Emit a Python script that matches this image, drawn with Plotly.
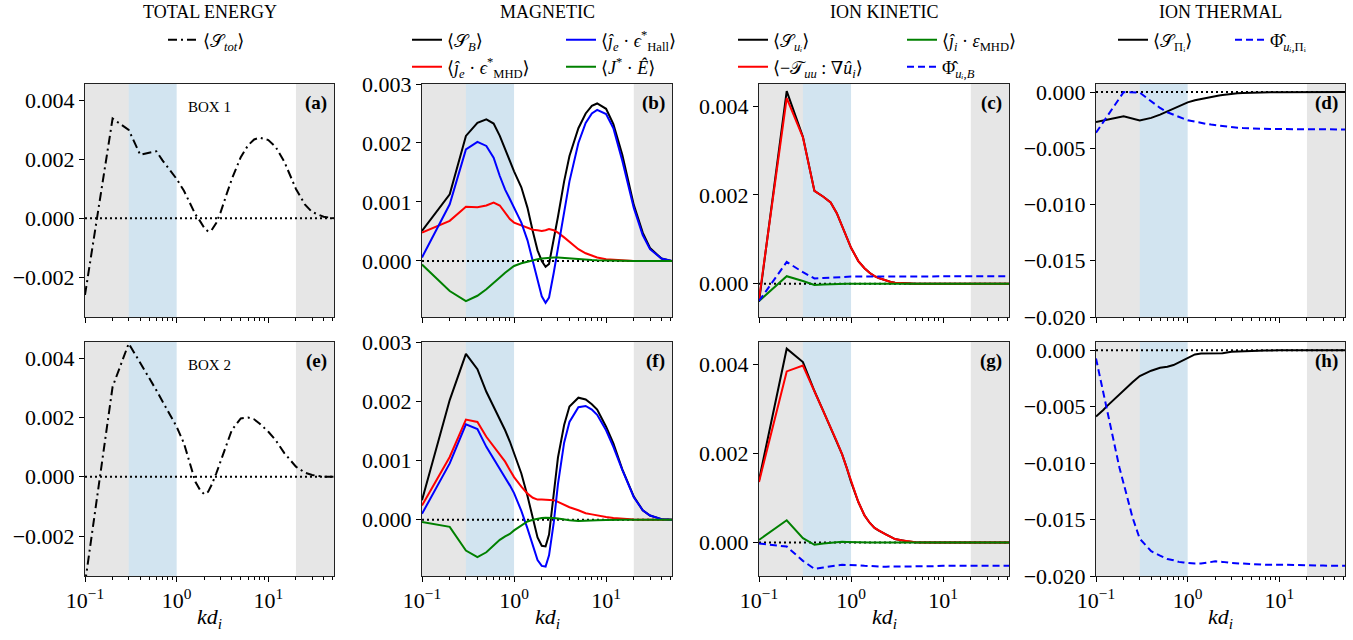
import math
import plotly.graph_objects as go

# ---------------- data (values in units of 1e-3) ----------------
SCALE = 1e-3
K = [0.1, 0.2, 0.3, 0.4, 0.5, 0.6, 0.7, 0.8, 0.9, 1.0, 1.2, 1.4, 1.6, 1.8, 2.0,
     2.2, 2.4, 2.7, 3.0, 3.5, 4, 5, 6, 7, 8, 10, 12, 15, 20, 25, 30, 40, 52]
K_H = [0.1, 0.11, 0.12, 0.13, 0.14, 0.16, 0.18, 0.2, 0.22, 0.25, 0.3, 0.4, 0.5, 0.6,
       0.7, 0.8, 0.9, 1.0, 1.2, 1.4, 1.6, 1.8, 2.0, 2.4, 3, 4, 5, 7, 10, 15, 20, 30, 52]

# BOX 1
TOT_1 = [-2.6, 3.38, 2.99, 2.15, 2.22, 2.27, 1.96, 1.73, 1.52, 1.33, 0.93, 0.47, 0.13, -0.10, -0.33,
         -0.45, -0.41, -0.16, 0.18, 0.81, 1.33, 2.07, 2.47, 2.67, 2.73, 2.65, 2.42, 1.90, 0.99, 0.47, 0.21, 0.05, 0.0]
SB_1 = [0.51, 1.13, 2.12, 2.34, 2.40, 2.33, 2.12, 1.89, 1.69, 1.52, 1.25, 0.90, 0.50, 0.18, 0.0,
        -0.10, -0.05, 0.35, 0.75, 1.35, 1.78, 2.25, 2.50, 2.63, 2.67, 2.58, 2.32, 1.80, 0.95, 0.48, 0.22, 0.04, 0.0]
HALL_1 = [0.06, 0.96, 1.89, 2.02, 1.95, 1.75, 1.44, 1.21, 1.05, 0.90, 0.65, 0.35, 0.0, -0.35, -0.60,
          -0.71, -0.62, -0.20, 0.20, 0.85, 1.35, 2.0, 2.34, 2.50, 2.56, 2.49, 2.25, 1.70, 0.90, 0.44, 0.20, 0.04, 0.0]
MHD_1 = [0.48, 0.68, 0.92, 0.91, 0.94, 0.99, 0.94, 0.82, 0.71, 0.65, 0.60, 0.56, 0.53, 0.52, 0.51,
         0.52, 0.54, 0.52, 0.48, 0.40, 0.32, 0.20, 0.13, 0.09, 0.06, 0.03, 0.02, 0.01, 0.0, 0.0, 0.0, 0.0, 0.0]
JE_1 = [-0.06, -0.51, -0.68, -0.59, -0.48, -0.38, -0.28, -0.20, -0.14, -0.085, -0.04, -0.01, 0.01, 0.03, 0.04,
        0.05, 0.06, 0.06, 0.06, 0.05, 0.04, 0.03, 0.02, 0.015, 0.01, 0.005, 0.0, 0.0, 0.0, 0.0, 0.0, 0.0, 0.0]
SUI_1 = [-0.41, 4.34, 3.31, 2.09, 1.96, 1.83, 1.59, 1.29, 1.03, 0.81, 0.51, 0.35, 0.24, 0.17, 0.13,
         0.10, 0.07, 0.04, 0.02, 0.01, 0.005, 0.0, 0.0, 0.0, 0.0, 0.0, 0.0, 0.0, 0.0, 0.0, 0.0, 0.0, 0.0]
TUU_1 = [-0.35, 4.18, 3.30, 2.09, 1.96, 1.83, 1.59, 1.29, 1.03, 0.81, 0.51, 0.35, 0.24, 0.17, 0.13,
         0.10, 0.07, 0.04, 0.02, 0.01, 0.005, 0.0, 0.0, 0.0, 0.0, 0.0, 0.0, 0.0, 0.0, 0.0, 0.0, 0.0, 0.0]
JI_1 = [-0.39, 0.17, 0.06, -0.03, -0.02, -0.01, -0.005, 0.0, 0.0, 0.0, 0.0, 0.0, 0.0, 0.0, 0.0,
        0.0, 0.0, 0.0, 0.0, 0.0, 0.0, 0.0, 0.0, 0.0, 0.0, 0.0, 0.0, 0.0, 0.0, 0.0, 0.0, 0.0, 0.0]
PHIB_1 = [-0.39, 0.49, 0.26, 0.12, 0.13, 0.14, 0.15, 0.155, 0.16, 0.16, 0.16, 0.16, 0.16, 0.16, 0.16,
          0.16, 0.16, 0.16, 0.165, 0.165, 0.165, 0.165, 0.17, 0.17, 0.17, 0.17, 0.17, 0.17, 0.17, 0.17, 0.17, 0.17, 0.17]
SPI_1 = [-2.65, -2.15, -2.53, -2.29, -2.0, -1.71, -1.41, -1.2, -1.05, -0.91, -0.72, -0.6, -0.5, -0.42, -0.35,
         -0.3, -0.26, -0.2, -0.16, -0.11, -0.08, -0.04, -0.02, -0.015, -0.01, -0.005, 0.0, 0.0, 0.0, 0.0, 0.0, 0.0, 0.0]
PHIP_1 = [-3.62, 0.0, -0.05, -0.82, -1.41, -1.79, -2.03, -2.2, -2.36, -2.5, -2.65, -2.75, -2.83, -2.89, -2.94,
          -2.98, -3.02, -3.07, -3.12, -3.17, -3.2, -3.24, -3.26, -3.27, -3.28, -3.29, -3.3, -3.3, -3.31, -3.31, -3.32, -3.32, -3.32]

# BOX 2
TOT_2 = [-3.6, 3.04, 4.5, 3.87, 3.34, 2.92, 2.56, 2.25, 1.97, 1.69, 1.13, 0.39, -0.17, -0.45, -0.59,
         -0.51, -0.28, 0.11, 0.51, 1.13, 1.58, 1.97, 2.0, 1.94, 1.80, 1.52, 1.24, 0.79, 0.34, 0.14, 0.06, 0.0, 0.0]
SB_2 = [0.33, 2.02, 2.80, 2.54, 2.16, 1.91, 1.71, 1.51, 1.32, 1.12, 0.78, 0.40, 0.05, -0.30, -0.44,
        -0.45, -0.25, 0.45, 1.05, 1.60, 1.91, 2.06, 2.03, 1.95, 1.86, 1.57, 1.29, 0.85, 0.39, 0.16, 0.07, 0.01, 0.0]
HALL_2 = [0.10, 0.95, 1.61, 1.53, 1.23, 1.03, 0.86, 0.72, 0.58, 0.45, 0.15, -0.15, -0.45, -0.68, -0.78,
          -0.79, -0.60, -0.05, 0.60, 1.30, 1.65, 1.90, 1.92, 1.86, 1.77, 1.51, 1.23, 0.84, 0.38, 0.16, 0.07, 0.01, 0.0]
MHD_2 = [0.24, 1.06, 1.69, 1.65, 1.40, 1.23, 1.09, 0.98, 0.84, 0.72, 0.56, 0.44, 0.37, 0.34, 0.34,
         0.34, 0.34, 0.33, 0.30, 0.25, 0.21, 0.16, 0.11, 0.09, 0.07, 0.045, 0.03, 0.015, 0.005, 0.0, 0.0, 0.0, 0.0]
JE_2 = [-0.04, -0.12, -0.52, -0.63, -0.55, -0.43, -0.34, -0.28, -0.24, -0.18, -0.10, -0.03, 0.0, 0.02, 0.03,
        0.035, 0.035, 0.03, 0.02, 0.0, -0.01, -0.02, -0.02, -0.015, -0.01, -0.005, 0.0, 0.0, 0.0, 0.0, 0.0, 0.0, 0.0]
SUI_2 = [1.40, 4.35, 4.05, 3.40, 2.95, 2.58, 2.27, 1.98, 1.67, 1.36, 0.91, 0.61, 0.44, 0.33, 0.27,
         0.22, 0.18, 0.13, 0.08, 0.05, 0.03, 0.01, 0.0, 0.0, 0.0, 0.0, 0.0, 0.0, 0.0, 0.0, 0.0, 0.0, 0.0]
TUU_2 = [1.36, 3.84, 3.97, 3.40, 2.95, 2.58, 2.27, 1.98, 1.67, 1.36, 0.91, 0.61, 0.44, 0.33, 0.27,
         0.22, 0.18, 0.13, 0.08, 0.05, 0.03, 0.01, 0.0, 0.0, 0.0, 0.0, 0.0, 0.0, 0.0, 0.0, 0.0, 0.0, 0.0]
JI_2 = [0.06, 0.50, 0.10, -0.05, -0.02, 0.0, 0.01, 0.02, 0.015, 0.01, 0.005, 0.0, 0.0, 0.0, 0.0,
        0.0, 0.0, 0.0, 0.0, 0.0, 0.0, 0.0, 0.0, 0.0, 0.0, 0.0, 0.0, 0.0, 0.0, 0.0, 0.0, 0.0, 0.0]
PHIB_2 = [-0.02, -0.09, -0.41, -0.59, -0.56, -0.53, -0.51, -0.50, -0.50, -0.50, -0.51, -0.52, -0.53, -0.53, -0.54,
          -0.54, -0.54, -0.54, -0.54, -0.53, -0.53, -0.53, -0.53, -0.53, -0.53, -0.52, -0.52, -0.52, -0.52, -0.52, -0.52, -0.52, -0.52]
SPI_2 = [-5.88, -5.6, -5.3, -5.0, -4.75, -4.3, -3.9, -3.53, -3.22, -2.85, -2.29, -1.82, -1.56, -1.47,
         -1.32, -1.09, -0.82, -0.65, -0.38, -0.29, -0.3, -0.32, -0.33, -0.28, -0.15, -0.1, -0.06, -0.04, -0.02, -0.01, -0.005, 0.0, 0.0]
PHIP_2 = [-0.74, -2.3, -3.7, -5.0, -6.3, -8.5, -10.4, -11.8, -13.0, -14.8, -16.7, -17.8, -18.2, -18.5,
          -18.6, -18.75, -18.8, -18.85, -18.9, -18.9, -18.85, -18.75, -18.7, -18.75, -18.85, -18.9, -18.95, -19.0, -19.0, -19.05, -19.05, -19.08, -19.1]

COL_TITLES = ["TOTAL ENERGY", "MAGNETIC", "ION KINETIC", "ION THERMAL"]
PANEL_LABELS = ["(a)", "(b)", "(c)", "(d)", "(e)", "(f)", "(g)", "(h)"]
BOX_LABELS = ["BOX 1", "BOX 2"]
X_LABEL = "<i>kd</i><sub><i>i</i></sub>"
X_TICKS = [0.1, 1, 10]
X_TICKTEXT = ["10<sup>\u22121</sup>", "10<sup>0</sup>", "10<sup>1</sup>"]
X_MINOR = [0.2, 0.3, 0.4, 0.5, 0.6, 0.7, 0.8, 0.9, 2, 3, 4, 5, 6, 7, 8, 9, 20, 30, 40, 50]
X_RANGE = [0.1, 52]
Y_RANGES = [[-3.35, 4.55], [-0.95, 3.0], [-0.75, 4.5], [-20.0, 0.72]]
Y_TICKS = [[-2, 0, 2, 4], [0, 1, 2, 3], [0, 2, 4], [-20, -15, -10, -5, 0]]
BANDS = [(0.1, 0.3, "rgba(128,128,128,0.2)"), (0.3, 1.0, "rgba(31,119,180,0.2)"), (20, 52, "rgba(128,128,128,0.2)")]

NAMES = {
    "tot": "\u27e8\U0001D4AE<sub><i>tot</i></sub>\u27e9",
    "sb": "\u27e8\U0001D4AE<sub><i>B</i></sub>\u27e9",
    "hall": "\u27e8<i>\u0135</i><sub><i>e</i></sub> \u00b7 <i>\u03f5</i><sup>*</sup><sub>Hall</sub>\u27e9",
    "mhd": "\u27e8<i>\u0135</i><sub><i>e</i></sub> \u00b7 <i>\u03f5</i><sup>*</sup><sub>MHD</sub>\u27e9",
    "je": "\u27e8<i>J</i><sup>*</sup> \u00b7 <i>\u00ca</i>\u27e9",
    "sui": "\u27e8\U0001D4AE<sub><i>u\u1d62</i></sub>\u27e9",
    "tuu": "\u27e8\u2212\U0001D4AF<sub><i>uu</i></sub> : \u2207<i>\u00fb</i><sub><i>i</i></sub>\u27e9",
    "ji": "\u27e8<i>\u0135</i><sub><i>i</i></sub> \u00b7 <i>\u03b5</i><sub>MHD</sub>\u27e9",
    "phib": "\u03a6\u0302<sub><i>u\u1d62</i>,<i>B</i></sub>",
    "spi": "\u27e8\U0001D4AE<sub>\u03a0\u1d62</sub>\u27e9",
    "phip": "\u03a6\u0302<sub><i>u\u1d62</i>,\u03a0\u1d62</sub>",
}

BLACK, RED, BLUE, GREEN = "#000000", "#ff0000", "#0000ff", "#008000"
DASHDOT = "9px,4px,2px,4px"
DASH = "7px,4px"

# panel -> list of (k, values, color, dash, key, legend id)
PANELS = [
    [(K, TOT_1, BLACK, DASHDOT, "tot", "legend")],
    [(K, SB_1, BLACK, "solid", "sb", "legend2"), (K, MHD_1, RED, "solid", "mhd", "legend4"),
     (K, HALL_1, BLUE, "solid", "hall", "legend3"), (K, JE_1, GREEN, "solid", "je", "legend5")],
    [(K, SUI_1, BLACK, "solid", "sui", "legend6"), (K, TUU_1, RED, "solid", "tuu", "legend8"),
     (K, JI_1, GREEN, "solid", "ji", "legend7"), (K, PHIB_1, BLUE, DASH, "phib", "legend9")],
    [(K, SPI_1, BLACK, "solid", "spi", "legend10"), (K, PHIP_1, BLUE, DASH, "phip", "legend11")],
    [(K, TOT_2, BLACK, DASHDOT, "tot", None)],
    [(K, SB_2, BLACK, "solid", "sb", None), (K, MHD_2, RED, "solid", "mhd", None),
     (K, HALL_2, BLUE, "solid", "hall", None), (K, JE_2, GREEN, "solid", "je", None)],
    [(K, SUI_2, BLACK, "solid", "sui", None), (K, TUU_2, RED, "solid", "tuu", None),
     (K, JI_2, GREEN, "solid", "ji", None), (K, PHIB_2, BLUE, DASH, "phib", None)],
    [(K_H, SPI_2, BLACK, "solid", "spi", None), (K_H, PHIP_2, BLUE, DASH, "phip", None)],
]

# ---------------- layout constants ----------------
W, H = 1353, 640
COL_PX = [(85, 334), (422, 672), (759, 1009), (1096, 1345)]
ROW_PX = [(84, 317), (342, 576)]
XLABEL_Y = 618
SERIF = "Liberation Serif, DejaVu Serif, serif"
LEG_POS = {
    "legend": (168, 40),
    "legend2": (412, 40), "legend3": (566, 40), "legend4": (412, 67), "legend5": (566, 67),
    "legend6": (738, 40), "legend7": (907, 40), "legend8": (738, 67), "legend9": (907, 67),
    "legend10": (1118, 40), "legend11": (1235, 40),
}

fig = go.Figure()
layout = dict(width=W, height=H, margin=dict(l=0, r=0, t=0, b=0, autoexpand=False),
              paper_bgcolor="white", plot_bgcolor="white",
              font=dict(family=SERIF, size=22, color="black"),
              showlegend=True)
shapes, annotations = [], []

for p, traces in enumerate(PANELS):
    row, col = divmod(p, 4)
    n = p + 1
    xa = "x" if n == 1 else f"x{n}"
    ya = "y" if n == 1 else f"y{n}"
    xkey = "xaxis" if n == 1 else f"xaxis{n}"
    ykey = "yaxis" if n == 1 else f"yaxis{n}"
    c0, c1 = COL_PX[col]
    r0, r1 = ROW_PX[row]
    layout[xkey] = dict(
        type="log", domain=[c0 / W, c1 / W], anchor=ya, automargin=False,
        range=[math.log10(X_RANGE[0]), math.log10(X_RANGE[1])],
        tickmode="array", tickvals=X_TICKS, ticktext=X_TICKTEXT,
        showticklabels=(row == 1), ticks="outside", ticklen=5, tickwidth=1, tickcolor="black",
        minor=dict(tickmode="array", tickvals=X_MINOR, ticks="outside", ticklen=3, tickwidth=1, tickcolor="black"),
        showline=True, mirror=True, linecolor="#222", linewidth=1, showgrid=False, zeroline=False,
        tickfont=dict(size=22),
    )
    layout[ykey] = dict(
        domain=[1 - r1 / H, 1 - r0 / H], anchor=xa, automargin=False,
        range=[v * SCALE for v in Y_RANGES[col]],
        tickmode="array", tickvals=[v * SCALE for v in Y_TICKS[col]], tickformat=".3f",
        ticks="outside", ticklen=5, tickwidth=1, tickcolor="black",
        showline=True, mirror=True, linecolor="#222", linewidth=1, showgrid=False, zeroline=False,
        tickfont=dict(size=22),
    )
    for (b0, b1, colr) in BANDS:
        shapes.append(dict(type="rect", xref=xa, yref=f"{ya} domain", x0=b0, x1=b1, y0=0, y1=1,
                           fillcolor=colr, line=dict(width=0), layer="below"))
    shapes.append(dict(type="line", xref=f"{xa} domain", yref=ya, x0=0, x1=1, y0=0, y1=0,
                       line=dict(color="black", width=2, dash="2px,3px"), layer="below"))
    for (kk, vals, colr, dash, key, leg) in traces:
        fig.add_trace(go.Scatter(
            x=kk, y=[v * SCALE for v in vals], mode="lines", xaxis=xa, yaxis=ya,
            line=dict(color=colr, width=2, dash=dash),
            name=NAMES[key], showlegend=leg is not None, legend=leg if leg else "legend",
            hoverinfo="skip"))
    annotations.append(dict(text=f"<b>{PANEL_LABELS[p]}</b>", xref=f"{xa} domain", yref=f"{ya} domain",
                            x=0.978, y=0.92, xanchor="right", yanchor="middle", showarrow=False,
                            font=dict(size=19, family=SERIF)))
    if col == 0:
        annotations.append(dict(text=BOX_LABELS[row], xref=f"{xa} domain", yref=f"{ya} domain",
                                x=0.5, y=0.90, xanchor="center", yanchor="middle", showarrow=False,
                                font=dict(size=15, family=SERIF)))
    if row == 1:
        annotations.append(dict(text=X_LABEL, xref=f"{xa} domain", yref="paper",
                                x=0.5, y=1 - XLABEL_Y / H, xanchor="center", yanchor="middle",
                                showarrow=False, font=dict(size=22, family=SERIF)))

for col, t in enumerate(COL_TITLES):
    c0, c1 = COL_PX[col]
    annotations.append(dict(text=t, xref="paper", yref="paper", x=(c0 + c1) / 2 / W, y=1 - 12 / H,
                            xanchor="center", yanchor="middle", showarrow=False,
                            font=dict(size=18, family=SERIF)))

for name, (px, py) in LEG_POS.items():
    layout[name] = dict(x=(px - 5) / W, y=1 - py / H, xanchor="left", yanchor="middle",
                        orientation="h", bgcolor="rgba(0,0,0,0)", borderwidth=0,
                        font=dict(family=SERIF, size=18, color="black"), itemwidth=30)

layout["shapes"] = shapes
layout["annotations"] = annotations
fig.update_layout(**layout)
fig.write_html("out.html")
